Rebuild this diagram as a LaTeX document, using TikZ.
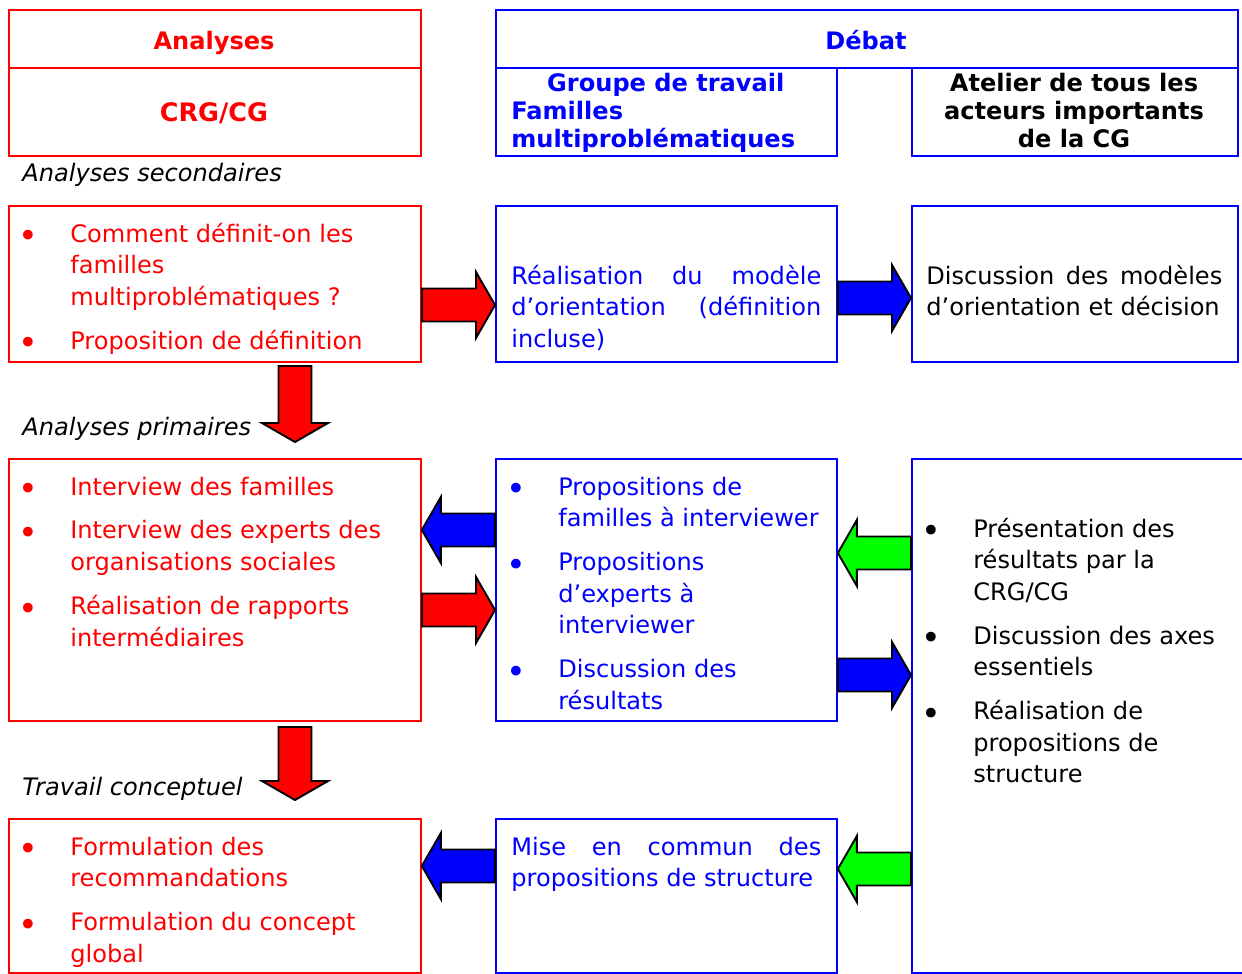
\documentclass[tikz,border=0pt]{standalone}
\usepackage{fontspec}
\setmainfont{DejaVu Sans}
\usetikzlibrary{calc}

\newcommand{\bodyfont}{\fontsize{13.7}{18}\selectfont}
\newcommand{\headfont}{\fontsize{13.7}{16.2}\selectfont\bfseries}
\newcommand{\bul}{\raisebox{-3.2pt}{\fontsize{19}{18}\selectfont\textbullet}}

% fat block arrow from #2 to #3, filled with #1
\newcommand{\fatarrow}[3]{%
  \coordinate (fa-base) at ($(#3)!0.38cm!(#2)$);
  \filldraw[fill=#1, draw=black, line width=1.1pt]
    ($(#2)!0.33cm!90:(#3)$) -- ($(fa-base)!0.33cm!90:(#3)$)
    -- ($(fa-base)!0.66cm!90:(#3)$) -- (#3)
    -- ($(fa-base)!0.66cm!-90:(#3)$) -- ($(fa-base)!0.33cm!-90:(#3)$)
    -- ($(#2)!0.33cm!-90:(#3)$) -- cycle;}

\begin{document}
\begin{tikzpicture}[x=0.02cm, y=-0.02cm,
  boxbase/.style={draw, line width=1.1pt, inner sep=0pt, anchor=north west},
  redbox/.style={boxbase, draw=red},
  bluebox/.style={boxbase, draw=blue},
  txt/.style={inner sep=0pt, anchor=base west, font=\bodyfont},
  headtxt/.style={inner sep=0pt, anchor=base, font=\headfont},
  sidelabel/.style={inner sep=0pt, anchor=base west, font=\bodyfont\itshape}]

\useasboundingbox (0,0) rectangle (1242,974);

% Column headers
\node[redbox, minimum width=8.24cm, minimum height=1.16cm] (anh) at (8,9) {};
\node[redbox, minimum width=8.24cm, minimum height=1.76cm] (crg) at (8,67) {};
\node[bluebox, minimum width=14.84cm, minimum height=1.16cm] (deb) at (495,9) {};
\node[bluebox, minimum width=6.82cm, minimum height=1.76cm] (grp) at (495,67) {};
\node[bluebox, minimum width=6.52cm, minimum height=1.76cm] (ate) at (911,67) {};

\node[headtxt, red] (anht) at (214,49) {Analyses};
\node[headtxt, red, font=\fontsize{14.5}{16.2}\selectfont\bfseries] (crgt) at (214,121) {CRG/CG};
\node[headtxt, blue] (debt) at (866,49) {Débat};
\node[headtxt, blue, anchor=base west] (grpt) at (511,91)
  {\begin{tabular}[t]{@{}l@{}}\makebox[6.18cm]{Groupe de travail}\\ Familles\\ multiproblématiques\end{tabular}};
\node[headtxt] (atet) at (1074,91)
  {\begin{tabular}[t]{@{}c@{}}Atelier de tous les\\ acteurs importants\\ de la CG\end{tabular}};

% Analyses secondaires
\node[sidelabel] (lsec) at (22,181) {Analyses secondaires};
\node[redbox, minimum width=8.24cm, minimum height=3.12cm] (sec) at (8,205) {};
\node[bluebox, minimum width=6.82cm, minimum height=3.12cm] (real) at (495,205) {};
\node[bluebox, minimum width=6.52cm, minimum height=3.12cm] (disc) at (911,205) {};

\node[txt, red] (sect) at (18,242)
  {\begin{tabular}[t]{@{}p{1.04cm}@{}l@{}}
   \bul & Comment définit-on les\\
        & familles\\
        & multiproblématiques ?\\[7pt]
   \bul & Proposition de définition
   \end{tabular}};
\node[txt, blue] (realt) at (511,284)
  {\parbox[t]{6.2cm}{Réalisation du modèle\linebreak d’orientation (définition\linebreak incluse)}};
\node[txt] (disct) at (926,284)
  {\parbox[t]{5.92cm}{Discussion des modèles\linebreak d’orientation et décision}};

% Analyses primaires
\node[sidelabel] (lprim) at (22,435) {Analyses primaires};
\node[redbox, minimum width=8.24cm, minimum height=5.24cm] (prim) at (8,458) {};
\node[bluebox, minimum width=6.82cm, minimum height=5.24cm] (prop) at (495,458) {};
\node[bluebox, minimum width=6.7cm, minimum height=10.29cm] (atel) at (911,458) {};

\node[txt, red] (primt) at (18,495)
  {\begin{tabular}[t]{@{}p{1.04cm}@{}l@{}}
   \bul & Interview des familles\\[7pt]
   \bul & Interview des experts des\\
        & organisations sociales\\[7pt]
   \bul & Réalisation de rapports\\
        & intermédiaires
   \end{tabular}};
\node[txt, blue] (propt) at (506,495)
  {\begin{tabular}[t]{@{}p{1.04cm}@{}l@{}}
   \bul & Propositions de\\
        & familles à interviewer\\[7pt]
   \bul & Propositions\\
        & d’experts à\\
        & interviewer\\[7pt]
   \bul & Discussion des\\
        & résultats
   \end{tabular}};
\node[txt] (atelt) at (921,537)
  {\begin{tabular}[t]{@{}p{1.04cm}@{}l@{}}
   \bul & Présentation des\\
        & résultats par la\\
        & CRG/CG\\[7pt]
   \bul & Discussion des axes\\
        & essentiels\\[7pt]
   \bul & Réalisation de\\
        & propositions de\\
        & structure
   \end{tabular}};

% Travail conceptuel
\node[sidelabel] (lconc) at (22,795) {Travail conceptuel};
\node[redbox, minimum width=8.24cm, minimum height=3.09cm] (conc) at (8,818) {};
\node[bluebox, minimum width=6.82cm, minimum height=3.09cm] (mise) at (495,818) {};

\node[txt, red] (conct) at (18,855)
  {\begin{tabular}[t]{@{}p{1.04cm}@{}l@{}}
   \bul & Formulation des\\
        & recommandations\\[7pt]
   \bul & Formulation du concept\\
        & global
   \end{tabular}};
\node[txt, blue] (miset) at (511,855)
  {\parbox[t]{6.2cm}{Mise en commun des\linebreak propositions de structure}};

% Block arrows
\coordinate (down1s) at (295,366);
\coordinate (down1e) at (295,442);
\coordinate (down2s) at (295,727);
\coordinate (down2e) at (295,800);
\fatarrow{red}{down1s}{down1e}
\fatarrow{red}{down2s}{down2e}
\fatarrow{red}{sec.east |- 0,305}{real.west |- 0,305}
\fatarrow{blue}{real.east |- 0,298}{disc.west |- 0,298}
\fatarrow{blue}{prop.west |- 0,530}{prim.east |- 0,530}
\fatarrow{red}{prim.east |- 0,610}{prop.west |- 0,610}
\fatarrow{green}{atel.west |- 0,553}{prop.east |- 0,553}
\fatarrow{blue}{prop.east |- 0,675}{atel.west |- 0,675}
\fatarrow{blue}{mise.west |- 0,866}{conc.east |- 0,866}
\fatarrow{green}{atel.west |- 0,869}{mise.east |- 0,869}

\end{tikzpicture}
\end{document}
